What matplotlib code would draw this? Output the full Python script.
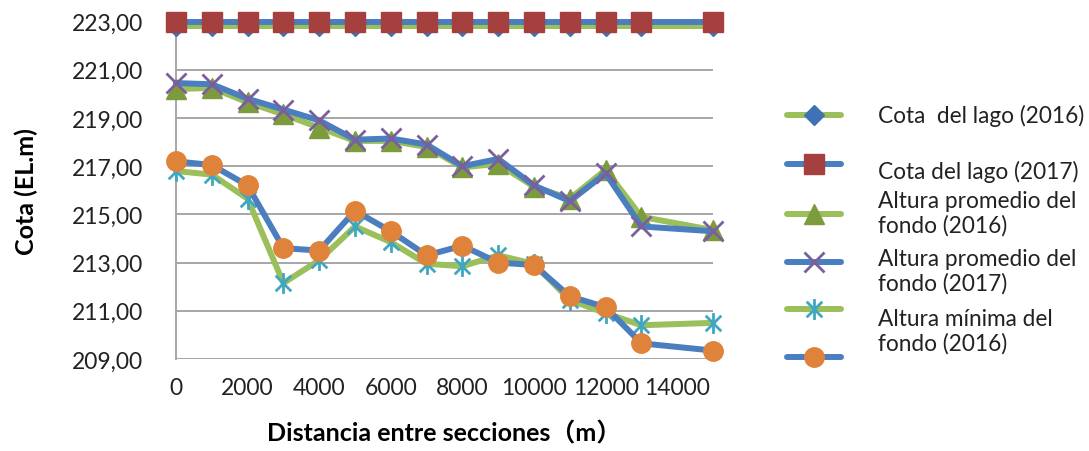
import matplotlib
matplotlib.use("Agg")
import matplotlib.pyplot as plt
from matplotlib.lines import Line2D
from matplotlib.path import Path

plt.rcParams['font.family'] = ['Lato', 'Noto Sans CJK JP', 'DejaVu Sans']

# distancia (m)
distancia = [0, 1000, 2000, 3000, 4000, 5000, 6000, 7000, 8000, 9000, 10000, 11000, 12000, 13000, 15000]

cota_lago_2016 = [222.8, 222.8, 222.8, 222.8, 222.8, 222.8, 222.8, 222.8, 222.8, 222.8, 222.8, 222.8, 222.8, 222.8, 222.8]
cota_lago_2017 = [223.0, 223.0, 223.0, 223.0, 223.0, 223.0, 223.0, 223.0, 223.0, 223.0, 223.0, 223.0, 223.0, 223.0, 223.0]
prom_2016 = [220.2, 220.25, 219.65, 219.15, 218.6, 218.05, 218.05, 217.8, 216.95, 217.1, 216.15, 215.65, 216.85, 214.9, 214.35]
prom_2017 = [220.45, 220.4, 219.8, 219.35, 218.9, 218.1, 218.15, 217.9, 217.0, 217.3, 216.2, 215.55, 216.7, 214.5, 214.3]
min_2016 = [216.8, 216.65, 215.65, 212.15, 213.1, 214.5, 213.85, 212.95, 212.85, 213.3, 212.95, 211.45, 210.9, 210.4, 210.5]
min_2017 = [217.2, 217.05, 216.2, 213.6, 213.5, 215.15, 214.3, 213.3, 213.7, 213.0, 212.9, 211.6, 211.15, 209.65, 209.35]

yticks = [209, 211, 213, 215, 217, 219, 221, 223]
xticks = [0, 2000, 4000, 6000, 8000, 10000, 12000, 14000]

etiquetas = ["Cota  del lago (2016)", "Cota del lago (2017)",
             "Altura promedio del\nfondo (2016)", "Altura promedio del\nfondo (2017)",
             "Altura mínima del\nfondo (2016)"]

azul = "#4A7EBF"
verde = "#9BBF5A"

# asterisco estilo excel: vertical + X
ast = Path([(0, -1), (0, 1), (-0.75, -0.75), (0.75, 0.75), (-0.75, 0.75), (0.75, -0.75)],
           [Path.MOVETO, Path.LINETO, Path.MOVETO, Path.LINETO, Path.MOVETO, Path.LINETO])

series = [
    (cota_lago_2016, verde, dict(marker='D', ms=10, mfc="#3F72B5", mec="#3F72B5")),
    (cota_lago_2017, azul, dict(marker='s', ms=14, mfc="#A5403E", mec="#A5403E")),
    (prom_2016, verde, dict(marker='^', ms=15, mfc="#7C9B3C", mec="#7C9B3C")),
    (prom_2017, azul, dict(marker='x', ms=15, mec="#7B5E9E", mew=2)),
    (min_2016, verde, dict(marker=ast, ms=15, mec="#3FA7C2", mfc='none', mew=2)),
    (min_2017, azul, dict(marker='o', ms=14, mfc="#E0833A", mec="#E0833A")),
]

W, H = 1089, 452
fig = plt.figure(figsize=(W / 100, H / 100), dpi=100)
ax = fig.add_axes([176 / W, 1 - 360 / H, (713 - 176) / W, (360 - 22.6) / H])

for i, (vals, col, mk) in enumerate(series):
    ax.plot(distancia, vals, color=col, lw=4.3, solid_capstyle='round', solid_joinstyle='round',
            clip_on=False, zorder=3 + i, **mk)

ax.set_xlim(0, 15000)
ax.set_ylim(209, 223)
ax.set_yticks(yticks)
ax.set_yticklabels([f"{v:.2f}".replace('.', ',') for v in yticks])
ax.set_xticks(xticks)
ax.set_xticklabels([str(v) for v in xticks])
ax.tick_params(length=0, labelsize=16.5, colors="#222222")
ax.tick_params(axis='y', pad=24)
ax.tick_params(axis='x', pad=13)
ax.grid(axis='y', color="#A6A6A6", lw=1.4)
ax.set_axisbelow(True)
for s in ['top', 'right', 'bottom']:
    ax.spines[s].set_visible(False)
ax.spines['left'].set_color("#A6A6A6")
ax.spines['left'].set_linewidth(1.4)

ax.set_ylabel("Cota (EL.m)", fontsize=18, fontweight='bold', labelpad=24)
ax.set_xlabel("Distancia entre secciones（m）", fontsize=18, fontweight='bold', labelpad=16)

# leyenda manual (las etiquetas no coinciden con los símbolos, como en el original)
ley_y = [116, 165, 215, 263, 310, 358]
for (vals, col, mk), py in zip(series, ley_y):
    fy = 1 - py / H
    fig.add_artist(Line2D([787 / W, 841 / W], [fy, fy], color=col, lw=4.3, solid_capstyle='round',
                          transform=fig.transFigure))
    fig.add_artist(Line2D([814 / W], [fy], color=col, lw=0, transform=fig.transFigure, **mk))

txt_y = [116, 172, 214, 272, 332]
for lab, py in zip(etiquetas, txt_y):
    fig.text(878 / W, 1 - py / H, lab, fontsize=16.3, color="#222222", va='center', ha='left',
             linespacing=1.2)

fig.savefig("out.png", dpi=100)
